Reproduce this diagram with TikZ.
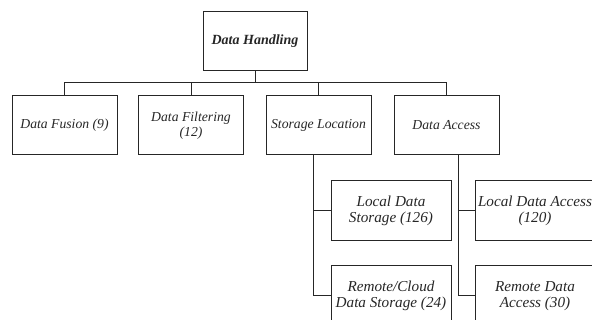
\documentclass[tikz,border=0pt]{standalone}
\usepackage{fontspec}
\setmainfont{Liberation Serif}
\begin{document}
\begin{tikzpicture}[x=1pt,y=1pt,
  box/.style={draw=black!85, line width=1pt, rectangle, align=center, inner sep=1pt,
    font=\fontsize{13.7}{15.5}\selectfont\itshape, text=black!85},
  subbox/.style={box, minimum width=120, minimum height=60,
    font=\fontsize{15.2}{16.5}\selectfont\itshape},
  conn/.style={draw=black!85, line width=1pt}]
\useasboundingbox (0,0) rectangle (592,-320);
\clip (0,0) rectangle (592,-320);
\node[box, minimum width=104, minimum height=59, font=\fontsize{14}{16}\selectfont\bfseries\itshape] (top) at (255,-41.5) {Data Handling};
\node[box, minimum width=105, minimum height=59] (c1) at (64.5,-125.5) {Data Fusion (9)};
\node[box, minimum width=105, minimum height=59] (c2) at (191,-125.5) {Data Filtering\\(12)};
\node[box, minimum width=105, minimum height=59] (c3) at (318.5,-125.5) {Storage Location};
\node[box, minimum width=105, minimum height=59] (c4) at (446.5,-125.5) {Data Access};
\node[subbox] (l1) at (391,-211) {Local Data\\Storage (126)};
\node[subbox] (r1) at (391,-296) {Remote/Cloud\\Data Storage (24)};
\node[subbox] (l2) at (535,-211) {Local Data Access\\(120)};
\node[subbox] (r2) at (535,-296) {Remote Data\\Access (30)};
\coordinate (bus) at (255,-83);
\draw[conn] (top.south) -- (bus);
\draw[conn] (c1.north) -- (c1.north |- bus) -- (c4.north |- bus) -- (c4.north);
\draw[conn] (c2.north) -- (c2.north |- bus);
\draw[conn] (c3.north) -- (c3.north |- bus);
\coordinate (s3) at (313,-155);
\coordinate (s4) at (458,-155);
\draw[conn] (s3) |- (r1.west);
\draw[conn] (s3 |- l1.west) -- (l1.west);
\draw[conn] (s4) |- (r2.west);
\draw[conn] (s4 |- l2.west) -- (l2.west);
\end{tikzpicture}
\end{document}
